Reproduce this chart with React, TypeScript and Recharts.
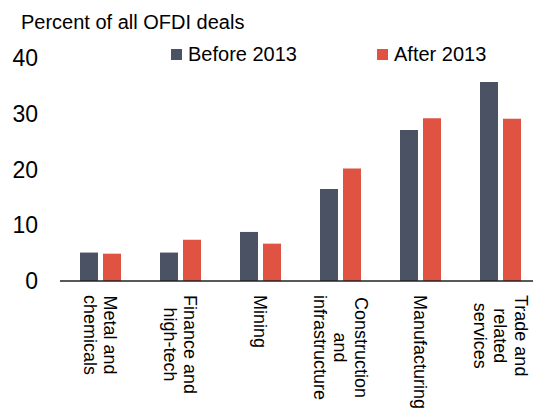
import { BarChart, Bar, XAxis, YAxis } from "recharts"

const categories = [
  "Metal and\nchemicals",
  "Finance and\nhigh-tech",
  "Mining",
  "Construction\nand\ninfrastructure",
  "Manufacturing",
  "Trade and\nrelated\nservices",
]
const before2013 = [5.1, 5.1, 8.8, 16.5, 27.1, 35.7]
const after2013 = [4.9, 7.4, 6.7, 20.2, 29.2, 29.1]
const yTicks = [0, 10, 20, 30, 40]

const FONT = '"Liberation Sans", Arial, Helvetica, sans-serif'
const BEFORE_COLOR = "#4a5263"
const AFTER_COLOR = "#e05242"

const data = categories.map((name, i) => ({
  name,
  before: before2013[i],
  after: after2013[i],
}))

// measure text so each multi-line label is centred in a block that starts at the axis
let ctx: CanvasRenderingContext2D | null = null
function textWidth(s: string, size: number) {
  if (!ctx) ctx = document.createElement("canvas").getContext("2d")
  if (!ctx) return s.length * size * 0.5
  ctx.font = `${size}px ${FONT}`
  return ctx.measureText(s).width
}

function CategoryTick({ x, y, payload }: any) {
  const lines: string[] = String(payload.value).split("\n")
  const size = 18
  const lineH = 20.5
  const blockW = Math.max(...lines.map((l) => textWidth(l, size)))
  const n = lines.length
  return (
    <g>
      {lines.map((line, i) => {
        const lx = x + ((n - 1) / 2 - i) * lineH
        return (
          <text
            key={i}
            transform={`translate(${lx}, ${y + 6}) rotate(90)`}
            x={blockW / 2}
            y={0}
            textAnchor="middle"
            dominantBaseline="central"
            fontSize={size}
            fontFamily={FONT}
            fill="#000"
          >
            {line}
          </text>
        )
      })}
    </g>
  )
}

export default function App() {
  return (
    <div
      style={{
        position: "absolute",
        left: 0,
        top: 0,
        width: 533,
        height: 410,
        overflow: "hidden",
        background: "#fff",
        fontFamily: FONT,
      }}
    >
      <div
        style={{
          position: "absolute",
          left: 21,
          top: 12,
          fontSize: 20,
          lineHeight: "20px",
          color: "#000",
          whiteSpace: "nowrap",
        }}
      >
        Percent of all OFDI deals
      </div>
      {[
        { label: "Before 2013", color: BEFORE_COLOR, left: 171 },
        { label: "After 2013", color: AFTER_COLOR, left: 377 },
      ].map((item) => (
        <div
          key={item.label}
          style={{
            position: "absolute",
            left: item.left,
            top: 44,
            height: 20,
            display: "flex",
            alignItems: "center",
            fontSize: 20,
            lineHeight: "20px",
            color: "#000",
            whiteSpace: "nowrap",
          }}
        >
          <span
            style={{
              width: 11,
              height: 11,
              background: item.color,
              marginRight: 6,
              display: "inline-block",
            }}
          />
          {item.label}
        </div>
      ))}
      <BarChart
        width={545}
        height={410}
        data={data}
        margin={{ top: 58, right: 5, left: 0, bottom: 0 }}
        barSize={18}
        barGap={5}
      >
        <XAxis
          dataKey="name"
          axisLine={{ stroke: "#222", strokeWidth: 1.5 }}
          tickLine={false}
          interval={0}
          height={129}
          tick={<CategoryTick />}
        />
        <YAxis
          domain={[0, 40]}
          ticks={yTicks}
          axisLine={false}
          tickLine={false}
          width={60}
          tickMargin={16}
          tick={{ fontSize: 23, fill: "#000", fontFamily: FONT }}
        />
        <Bar dataKey="before" name="Before 2013" fill={BEFORE_COLOR} isAnimationActive={false} />
        <Bar dataKey="after" name="After 2013" fill={AFTER_COLOR} isAnimationActive={false} />
      </BarChart>
    </div>
  )
}
